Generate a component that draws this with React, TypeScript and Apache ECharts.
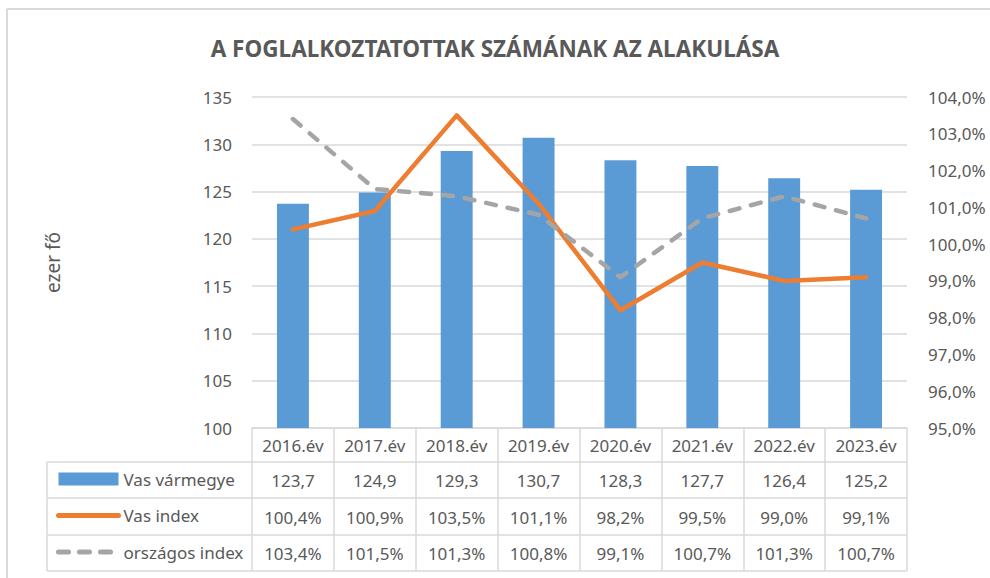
import React, { useEffect, useRef } from "react";
import * as echarts from "echarts";

const categories = ["2016.év", "2017.év", "2018.év", "2019.év", "2020.év", "2021.év", "2022.év", "2023.év"];
const seriesNames = ["Vas vármegye", "Vas index", "országos index"];
const vasVarmegye = [123.7, 124.9, 129.3, 130.7, 128.3, 127.7, 126.4, 125.2];
const vasIndex = [100.4, 100.9, 103.5, 101.1, 98.2, 99.5, 99.0, 99.1];
const orszagosIndex = [103.4, 101.5, 101.3, 100.8, 99.1, 100.7, 101.3, 100.7];
const titleText = "A FOGLALKOZTATOTTAK SZÁMÁNAK AZ ALAKULÁSA";
const leftAxisName = "ezer fő";

const FONT = "'Noto Sans', 'Open Sans', sans-serif";
const TXT = "#595959";
const BORDER = "#d9d9d9";
const BLUE = "#5B9BD5";
const ORANGE = "#ED7D31";
const GRAY = "#A5A5A5";

const fmt = (v: number) => v.toFixed(1).replace(".", ",");
const fmtPct = (v: number) => fmt(v) + "%";

export default function App() {
  const ref = useRef<HTMLDivElement>(null);
  useEffect(() => {
    if (!ref.current) return;
    const chart = echarts.init(ref.current, undefined, { renderer: "svg" });
    const gridLeft = 252;
    const gridRight = 907;
    const gridTop = 97;
    const gridBottom = 428;
    const rowLines = [462, 498, 535, 571];
    const tableLeft = 47;
    const labelStyle = { fontSize: 17, color: TXT, fontFamily: FONT, interval: 0 };
    const rowAxis = (data: string[], offset: number) => ({
      type: "category",
      data,
      position: "bottom",
      offset,
      axisLine: { show: false },
      axisTick: { show: false },
      axisLabel: { ...labelStyle, margin: 9 },
    });
    chart.setOption({
      animation: false,
      backgroundColor: "#ffffff",
      textStyle: { fontFamily: FONT },
      title: {
        text: titleText,
        left: 490,
        top: 32,
        textAlign: "center",
        textStyle: { fontSize: 22.5, fontWeight: "bold", color: TXT, fontFamily: FONT },
      },
      grid: {
        left: gridLeft,
        right: 990 - gridRight,
        top: gridTop,
        bottom: 578 - gridBottom,
      },
      legend: {
        orient: "vertical",
        left: 56,
        top: 469,
        padding: 0,
        itemWidth: 60,
        itemHeight: 13,
        itemGap: 16.5,
        textStyle: { fontSize: 17, color: TXT, fontFamily: FONT, lineHeight: 20 },
        data: [
          { name: seriesNames[0], icon: "rect" },
          {
            name: seriesNames[1],
            itemStyle: { opacity: 0, color: "transparent", borderWidth: 0 },
            lineStyle: { width: 5, color: ORANGE, cap: "round" },
          },
          {
            name: seriesNames[2],
            itemStyle: { opacity: 0, color: "transparent", borderWidth: 0 },
            lineStyle: { width: 5, color: GRAY, type: [10, 11], cap: "round" },
          },
        ],
      },
      xAxis: [
        {
          type: "category",
          data: categories,
          position: "bottom",
          axisLine: { lineStyle: { color: BORDER, width: 1.5 } },
          axisTick: {
            show: true,
            interval: 0,
            length: rowLines[rowLines.length - 1] - gridBottom,
            lineStyle: { color: BORDER, width: 1.5 },
          },
          axisLabel: { ...labelStyle, margin: 9 },
        },
        rowAxis(vasVarmegye.map(fmt), 35),
        rowAxis(vasIndex.map(fmtPct), 72),
        rowAxis(orszagosIndex.map(fmtPct), 108),
      ],
      yAxis: [
        {
          type: "value",
          min: 100,
          max: 135,
          interval: 5,
          name: leftAxisName,
          nameLocation: "middle",
          nameGap: 190,
          nameRotate: 90,
          nameTextStyle: { fontSize: 19, color: TXT, fontFamily: FONT },
          axisLine: { show: false },
          axisTick: { show: false },
          axisLabel: { fontSize: 17, color: TXT, fontFamily: FONT, margin: 20 },
          splitLine: { lineStyle: { color: BORDER, width: 1.5 } },
        },
        {
          type: "value",
          min: 95,
          max: 104,
          interval: 1,
          position: "right",
          axisLine: { show: false },
          axisTick: { show: false },
          axisLabel: {
            fontSize: 17,
            color: TXT,
            fontFamily: FONT,
            margin: 21,
            formatter: (v: number) => fmtPct(v),
          },
          splitLine: { show: false },
        },
      ],
      series: [
        {
          name: seriesNames[0],
          type: "bar",
          data: vasVarmegye,
          xAxisIndex: 0,
          yAxisIndex: 0,
          barWidth: "39%",
          itemStyle: { color: BLUE },
        },
        {
          name: seriesNames[1],
          type: "line",
          data: vasIndex,
          xAxisIndex: 0,
          yAxisIndex: 1,
          symbol: "none",
          lineStyle: { color: ORANGE, width: 4.5, cap: "round", join: "round" },
          itemStyle: { color: ORANGE },
        },
        {
          name: seriesNames[2],
          type: "line",
          data: orszagosIndex,
          xAxisIndex: 0,
          yAxisIndex: 1,
          symbol: "none",
          lineStyle: { color: GRAY, width: 4.5, type: [10, 12], cap: "round", join: "round" },
          itemStyle: { color: GRAY },
        },
      ],
      graphic: [
        { type: "line", shape: { x1: 7, y1: 9, x2: 990, y2: 9 }, style: { stroke: BORDER, lineWidth: 2 } },
        { type: "line", shape: { x1: 7, y1: 9, x2: 7, y2: 578 }, style: { stroke: BORDER, lineWidth: 2 } },
        ...rowLines.map((y) => ({
          type: "line",
          shape: { x1: tableLeft, y1: y, x2: gridRight, y2: y },
          style: { stroke: BORDER, lineWidth: 1.5 },
        })),
        {
          type: "line",
          shape: { x1: tableLeft, y1: rowLines[0], x2: tableLeft, y2: rowLines[rowLines.length - 1] },
          style: { stroke: BORDER, lineWidth: 1.5 },
        },
      ],
    });
    return () => chart.dispose();
  }, []);
  return (
    <div
      ref={ref}
      style={{ position: "fixed", left: 0, top: 0, width: 990, height: 578 }}
    />
  );
}
